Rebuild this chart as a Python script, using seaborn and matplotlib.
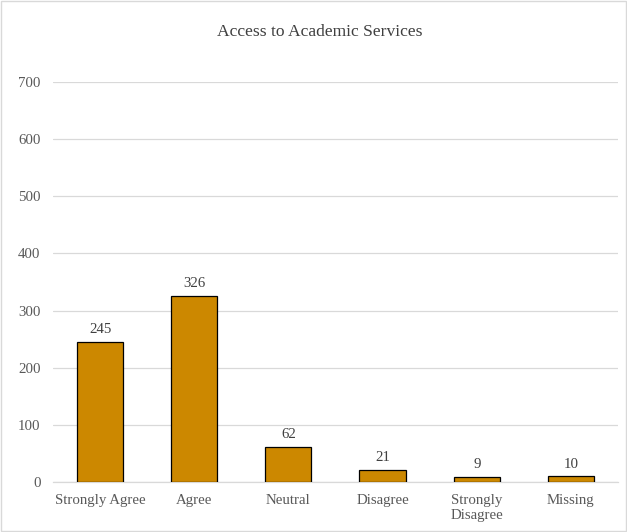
import matplotlib
matplotlib.use("Agg")
import matplotlib.pyplot as plt
import seaborn as sns
import pandas as pd

categories = ["Strongly Agree", "Agree", "Neutral", "Disagree", "Strongly\nDisagree", "Missing"]
counts = [245, 326, 62, 21, 9, 10]
title = "Access to Academic Services"

sns.set_style("white")
plt.rcParams["font.family"] = ["Liberation Serif", "DejaVu Serif"]

df = pd.DataFrame({"category": categories, "count": counts})

fig = plt.figure(figsize=(6.27, 5.32), dpi=100)
ax = fig.add_axes([0.0845, 0.094, 0.9011, 0.752])

sns.barplot(data=df, x="category", y="count", color="#CC8800", width=0.49,
            edgecolor="black", linewidth=0.9, saturation=1, ax=ax, zorder=3)

ax.set_ylim(0, 700)
ax.set_yticks(range(0, 701, 100))
ax.grid(axis="y", color="#D9D9D9", linewidth=0.9, zorder=0)
ax.set_axisbelow(True)
for s in ["top", "right", "left"]:
    ax.spines[s].set_visible(False)
ax.spines["bottom"].set_color("#D9D9D9")
ax.spines["bottom"].set_linewidth(0.9)
ax.tick_params(axis="both", length=0, labelsize=10.7, labelcolor="#595959")
ax.tick_params(axis="y", pad=9)
ax.tick_params(axis="x", pad=9)
ax.set_xlabel("")
ax.set_ylabel("")

for c in ax.containers:
    ax.bar_label(c, padding=4, fontsize=10.7, color="#404040")

fig.text(0.51, 0.94, title, ha="center", va="center", fontsize=12.6, color="#404040")

fig.patches.append(plt.Rectangle((0.002, 0.002), 0.996, 0.996, transform=fig.transFigure,
                                 fill=False, edgecolor="#D9D9D9", linewidth=1))

fig.savefig("out.png", dpi=100)
